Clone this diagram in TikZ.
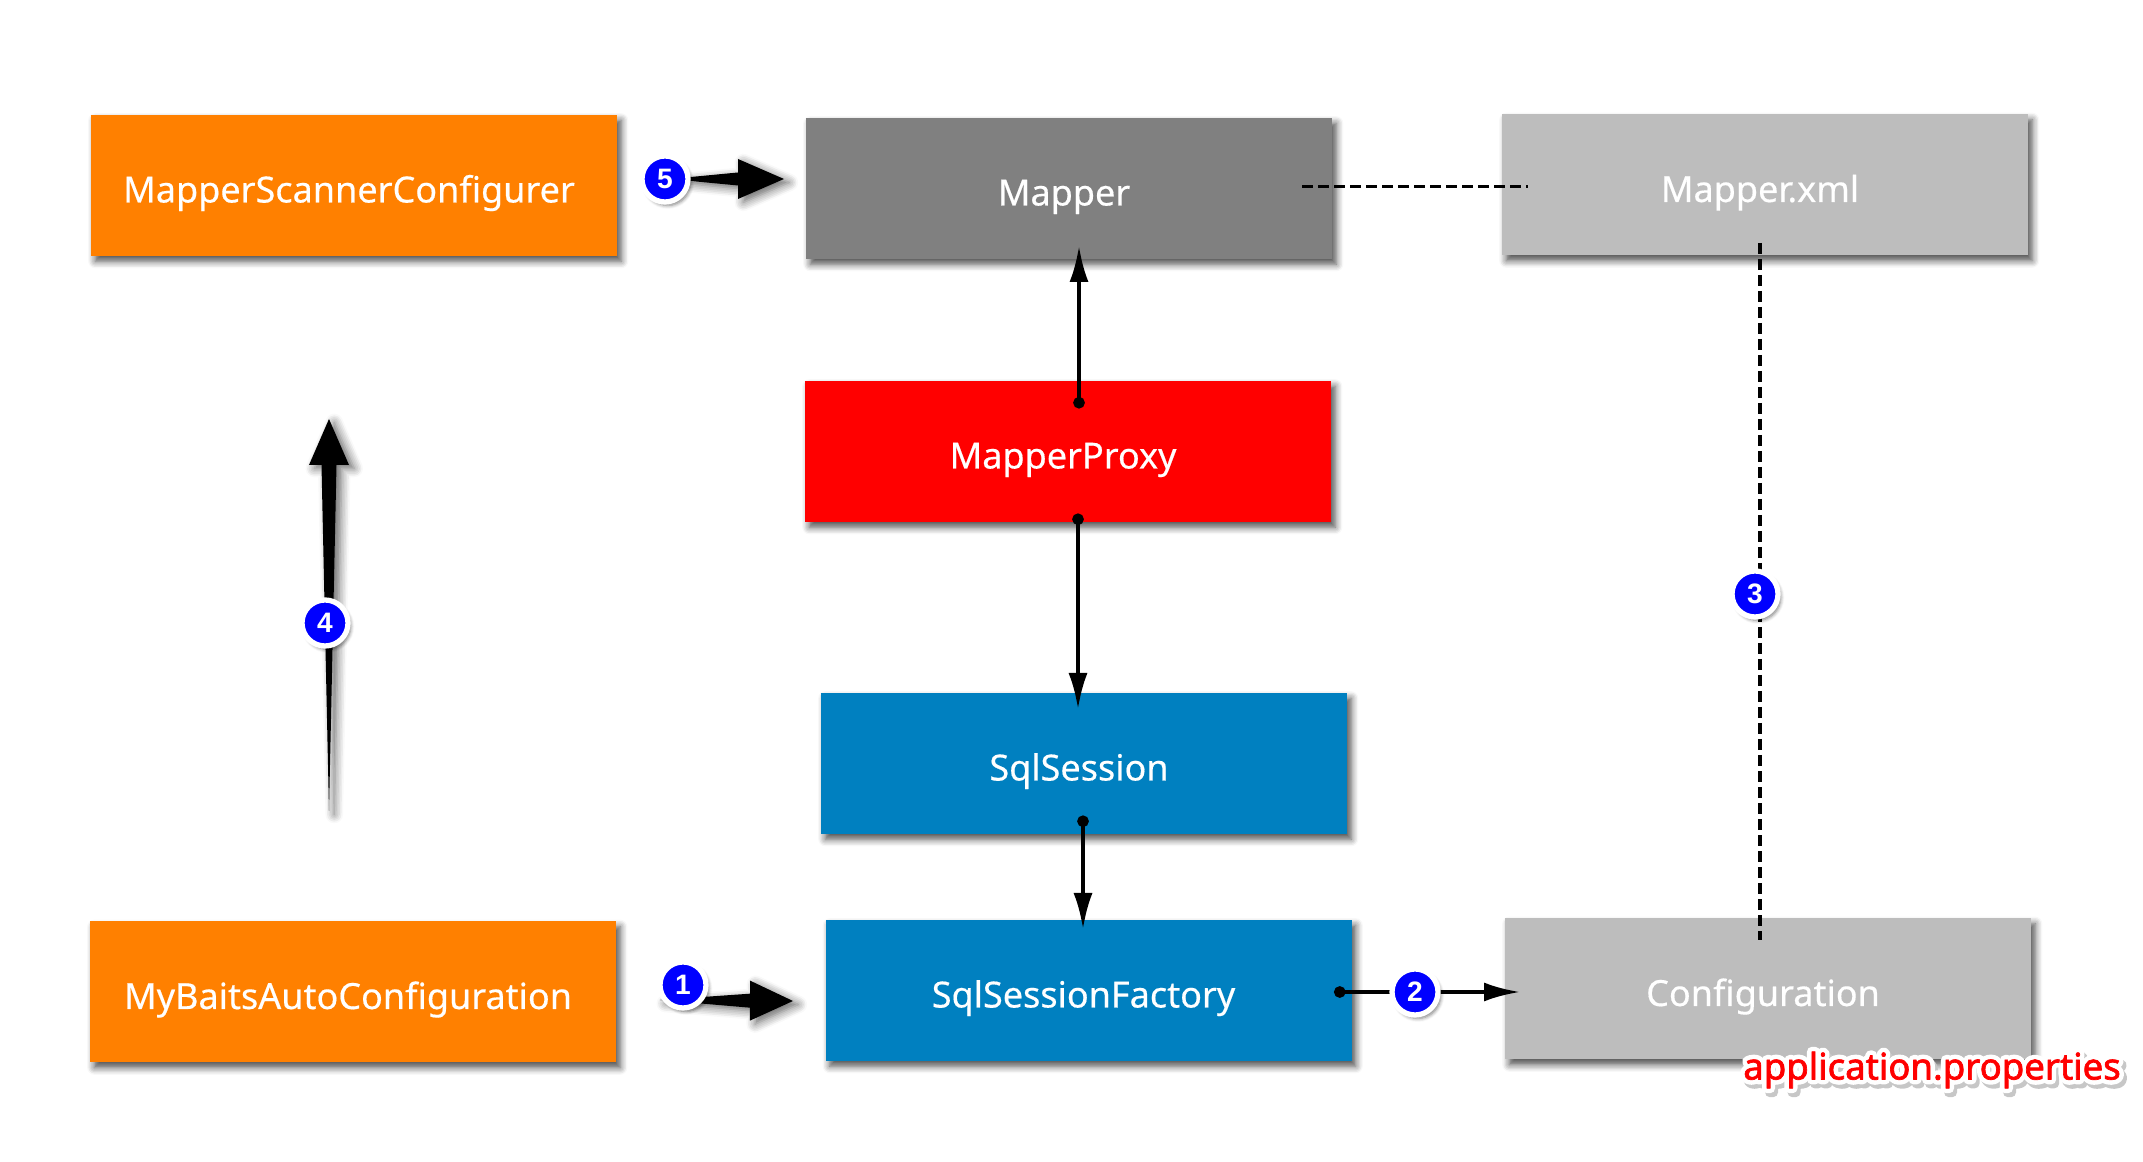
\documentclass[tikz,border=0pt]{standalone}
\usepackage{fontspec}
\setmainfont{Noto Sans}
\newfontfamily\badgefont{Liberation Sans}
\usetikzlibrary{arrows.meta,calc,shadows.blur}
\definecolor{boxorange}{HTML}{FF8000}
\definecolor{boxblue}{HTML}{0080C0}
\definecolor{boxgrey}{HTML}{808080}
\definecolor{boxlight}{HTML}{BDBDBD}
\tikzset{
  box/.style={minimum width=5.26cm,minimum height=1.41cm,inner sep=0pt,text=white,text height=.44cm,text depth=.1cm,execute at end node=\hspace{.1cm},font=\fontsize{10.25}{12}\addfontfeatures{FakeBold=.4}\selectfont,blur shadow={shadow xshift=1.2pt,shadow yshift=-1.5pt,shadow blur steps=6,shadow blur radius=2pt,shadow opacity=70}},
  badge/.style={circle,fill=blue,draw=white,line width=1.5pt,minimum size=.46cm,inner sep=0pt,text=white,font=\badgefont\bfseries\fontsize{8}{8}\selectfont,blur shadow={shadow xshift=.8pt,shadow yshift=-1pt,shadow blur steps=5,shadow blur radius=1pt,shadow opacity=50}},
  dotlink/.style={line width=1.1pt,{Circle[length=.115cm]}-{Latex[length=.36cm,width=.19cm]}},
  dashlink/.style={line width=1.1pt,dash pattern=on .11cm off .05cm},
  fatarrow/.style={fill=black,blur shadow={shadow xshift=1.5pt,shadow yshift=-1pt,shadow blur steps=6,shadow blur radius=2.5pt,shadow opacity=60}},
  proptext/.style={font=\fontsize{10.4}{12}\selectfont}
}
% from, to, head length, head half width, shaft half width
\newcommand{\taperarrow}[5]{
\path[fatarrow](#1)--($(#1)!#3!(#2)!#5!90:(#2)$)--($(#1)!#3!(#2)!#4!90:(#2)$)--(#2)--($(#1)!#3!(#2)!#4!-90:(#2)$)--($(#1)!#3!(#2)!#5!-90:(#2)$)--cycle;
}
% stroke colour, stroke width, text
\newcommand{\outlined}[3]{\special{pdf:code q #1 RG #2 w 1 j 1 J 2 Tr}#3\special{pdf:code Q}}
\begin{document}
\begin{tikzpicture}
\useasboundingbox(0,0)rectangle(21.43,11.61);
\node[box,fill=boxorange](scanner)at(3.54,9.755){MapperScannerConfigurer};
\node[box,fill=boxgrey](mapper)at(10.69,9.725){Mapper};
\node[box,fill=boxlight](mapperxml)at(17.65,9.76){Mapper.xml};
\node[box,fill=red](proxy)at(10.68,7.095){MapperProxy};
\node[box,fill=boxblue](session)at(10.84,3.975){SqlSession};
\node[box,fill=boxorange](autoconf)at(3.53,1.69){MyBaitsAutoConfiguration};
\node[box,fill=boxblue](factory)at(10.885,1.705){SqlSessionFactory};
\node[box,fill=boxlight](config)at(17.68,1.72){Configuration};
% connector ends
\coordinate(mapperdash)at(13.02,9.745);
\coordinate(xmldash)at(15.28,9.745);
\coordinate(xmldown)at(17.60,9.18);
\coordinate(configup)at(17.60,2.21);
\coordinate(proxytop)at(10.79,7.525);
\coordinate(mappertip)at(10.79,9.15);
\coordinate(proxybot)at(10.78,6.475);
\coordinate(sessiontip)at(10.78,4.52);
\coordinate(sessionbot)at(10.83,3.455);
\coordinate(factorytip)at(10.83,2.32);
\coordinate(factoryend)at(13.34,1.69);
\coordinate(configtip)at(15.20,1.69);
\draw[dashlink](mapperdash)--(xmldash);
\draw[dashlink](xmldown)--(configup);
\draw[dotlink](proxytop)--(mappertip);
\draw[dotlink](proxybot)--(sessiontip);
\draw[dotlink](sessionbot)--(factorytip);
\draw[dotlink](factoryend)--(configtip);
% fat arrows
\coordinate(tailone)at(6.60,1.61);
\coordinate(tipone)at(7.93,1.60);
\coordinate(tailfour)at(3.29,3.50);
\coordinate(tipfour)at(3.29,7.42);
\coordinate(tailfive)at(6.70,9.82);
\coordinate(tipfive)at(7.84,9.82);
\taperarrow{tailone}{tipone}{.9cm}{.2cm}{.07cm}
\taperarrow{tailfour}{tipfour}{3.46cm}{.2cm}{.075cm}
\taperarrow{tailfive}{tipfive}{.68cm}{.2cm}{.065cm}
\node[badge](one)at(6.83,1.76){1};
\node[badge](two)at(14.15,1.69){2};
\node[badge](three)at(17.55,5.67){3};
\node[badge](four)at(3.25,5.38){4};
\node[badge](five)at(6.65,9.82){5};
\node[proptext,text=black!22](propshadow)at(19.35,.87){\outlined{.78 .78 .78}{2.8}{application.properties}};
\node[proptext,text=white](propshalo)at(19.32,.91){\outlined{1 1 1}{2.8}{application.properties}};
\node[proptext,text=red](props)at(19.32,.91){\outlined{1 0 0}{.2}{application.properties}};
\end{tikzpicture}
\end{document}
